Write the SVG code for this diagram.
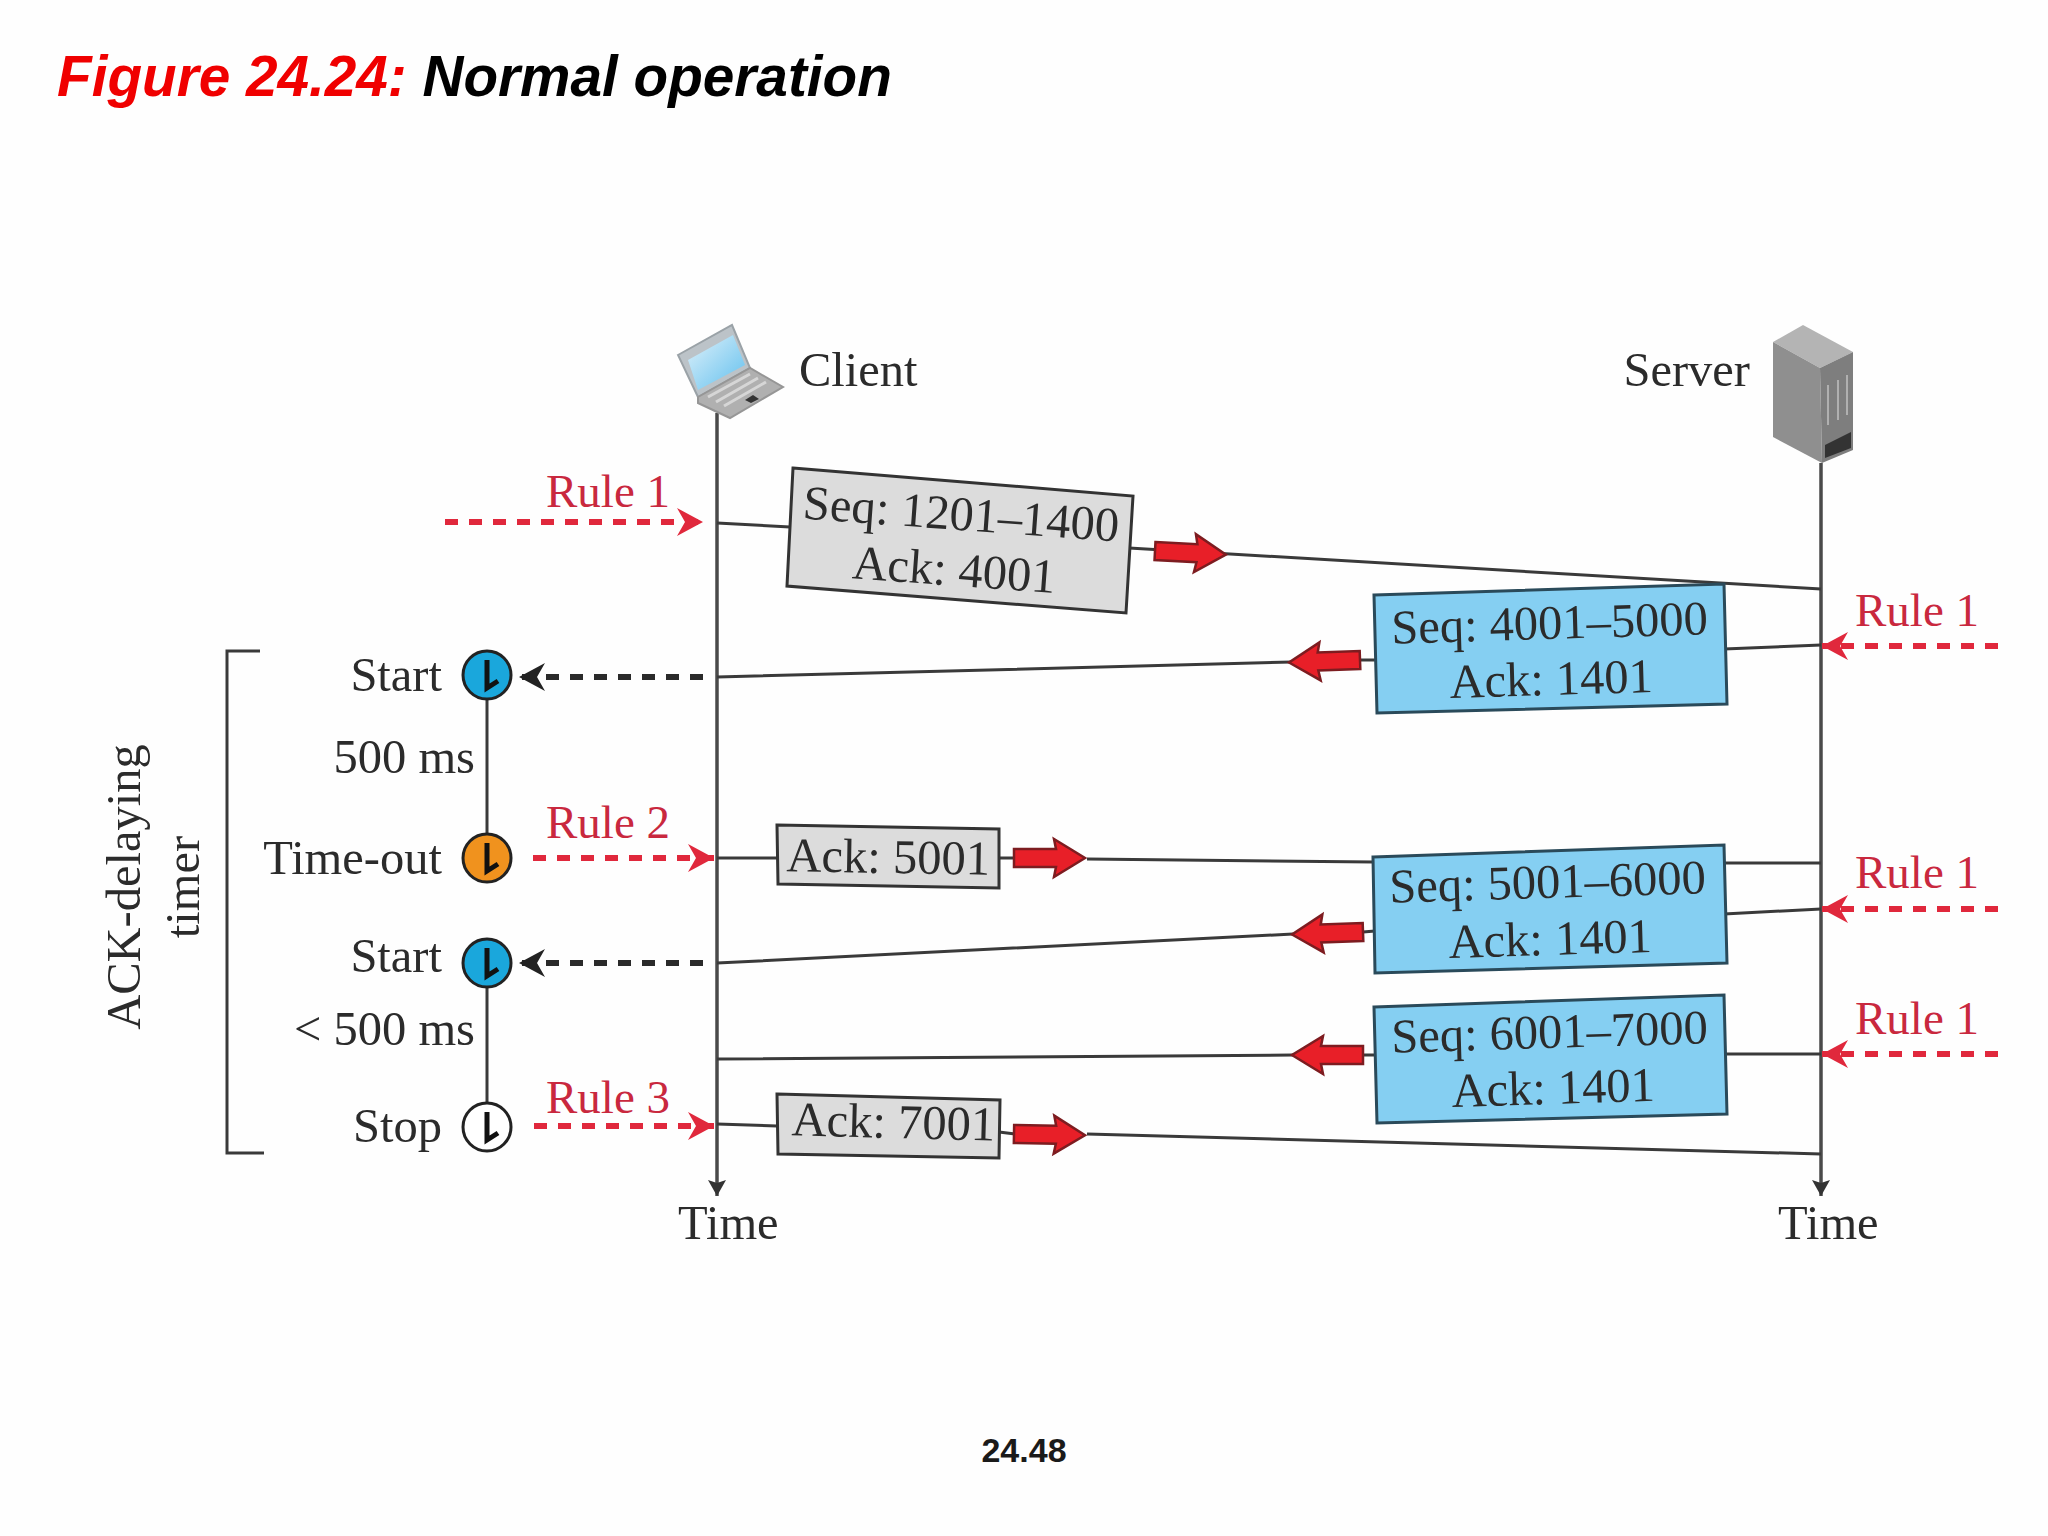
<svg xmlns="http://www.w3.org/2000/svg" xmlns:xlink="http://www.w3.org/1999/xlink" width="2048" height="1536" viewBox="0 0 2048 1536">
<style>
text{font-family:"Liberation Serif","Times New Roman",serif;font-size:48.5px;fill:#2b2b2b}
.r{text-anchor:end}
.m{text-anchor:middle}
.red{fill:#c9283e;font-size:47px}
.title{font-family:"Liberation Sans",Arial,sans-serif;font-weight:bold;font-style:italic;font-size:56.7px;fill:#000}
.foot{font-family:"Liberation Sans",Arial,sans-serif;font-weight:bold;font-size:34px;fill:#1a1a1a;text-anchor:middle}
.ln{stroke:#3a3a3a;stroke-width:3;fill:none}
.axis{stroke:#4a4a4a;stroke-width:3.5;fill:none}
.dr{stroke:#e0283c;stroke-width:6;stroke-dasharray:13 11;fill:none}
.dk{stroke:#2a2a2a;stroke-width:6;stroke-dasharray:13 11;fill:none}
.gray{fill:#dcdcdc;stroke:#333;stroke-width:3}
.blue{fill:#85cff2;stroke:#2a4a5a;stroke-width:3}
.clock{stroke:#222;stroke-width:3}
.hand{stroke:#111;stroke-width:5;fill:none}
</style>
<defs>
<linearGradient id="scr" x1="0" y1="0" x2="1" y2="1"><stop offset="0" stop-color="#dff1fa"/><stop offset="1" stop-color="#62c0ee"/></linearGradient>
<marker id="hr" markerUnits="userSpaceOnUse" markerWidth="28" markerHeight="30" refX="26" refY="15" orient="auto"><path d="M0 1 L26 15 L0 29 L8 15 Z" fill="#e0283c"/></marker>
<marker id="hk" markerUnits="userSpaceOnUse" markerWidth="28" markerHeight="30" refX="26" refY="15" orient="auto"><path d="M0 1 L26 15 L0 29 L8 15 Z" fill="#222"/></marker>
<marker id="ha" markerUnits="userSpaceOnUse" markerWidth="18" markerHeight="20" refX="16" refY="10" orient="auto"><path d="M0 1 L16 10 L0 19 L3 10 Z" fill="#333"/></marker>
<path id="fat" d="M0 -9 L42 -9 L40 -19 L71 0 L40 19 L42 9 L0 9 Z" fill="#e81f28" stroke="#7d1c20" stroke-width="2.5"/>
<g id="hands"><path class="hand" d="M0 -15 L0 13 L11 6"/></g>
</defs>
<rect width="2048" height="1536" fill="#fefefe"/>
<text class="title" x="57" y="96"><tspan fill="#f00000">Figure 24.24:</tspan> Normal operation</text>
<g id="connectors">
<path class="axis" d="M717 413V1196" marker-end="url(#ha)"/>
<path class="axis" d="M1821 463V1196" marker-end="url(#ha)"/>
<path class="ln" d="M717 523L790 527M1129 548L1821 589"/>
<path class="ln" d="M717 677L1292 662M1360 660L1375 660M1724 649L1821 645"/>
<path class="ln" d="M717 858L777 858M999 858L1015 858M1087 859L1374 862M1724 863L1821 863"/>
<path class="ln" d="M717 963L1293 934M1363 932L1375 931M1724 914L1821 909"/>
<path class="ln" d="M717 1059L1293 1055M1363 1055L1375 1055M1724 1054L1821 1054"/>
<path class="ln" d="M717 1124L777 1126M999 1132L1015 1134M1087 1134L1821 1154"/>
<path class="ln" d="M487 675V858M487 963V1127"/>
<path class="dr" d="M445 522H703" marker-end="url(#hr)"/>
<path class="dr" d="M533 858H714" marker-end="url(#hr)"/>
<path class="dr" d="M534 1126H714" marker-end="url(#hr)"/>
<path class="dr" d="M1998 646H1822" marker-end="url(#hr)"/>
<path class="dr" d="M1998 909H1822" marker-end="url(#hr)"/>
<path class="dr" d="M1998 1054H1822" marker-end="url(#hr)"/>
<path class="dk" d="M703 677H519" marker-end="url(#hk)"/>
<path class="dk" d="M703 963H519" marker-end="url(#hk)"/>
<use xlink:href="#fat" href="#fat" transform="translate(1155 551) rotate(3)"/>
<use xlink:href="#fat" href="#fat" transform="translate(1360 660) rotate(178)"/>
<use xlink:href="#fat" href="#fat" transform="translate(1014 858)"/>
<use xlink:href="#fat" href="#fat" transform="translate(1363 932) rotate(178)"/>
<use xlink:href="#fat" href="#fat" transform="translate(1363 1055) rotate(180)"/>
<use xlink:href="#fat" href="#fat" transform="translate(1014 1134) rotate(1)"/>
</g>
<g id="client">
<path d="M678 355L732 325L750 368L698 397Z" fill="#bcc3c8" stroke="#9aa2a7" stroke-width="2"/>
<path d="M688 360L733 335L745 365L698 390Z" fill="url(#scr)"/>
<path d="M698 397L750 368L783 387L730 418L698 403Z" fill="#b0b0b0" stroke="#969696" stroke-width="2"/>
<path d="M708 397L750 374M716 402L758 378M724 406L766 382" stroke="#d6d6d6" stroke-width="3" fill="none"/>
<path d="M745 400L753 395L759 399L751 403Z" fill="#333"/>
<text x="799" y="386">Client</text>
</g>
<g id="server">
<path d="M1773 342L1803 325L1853 352L1820 368Z" fill="#b4b4b4"/>
<path d="M1773 342L1820 368L1822 463L1773 437Z" fill="#8f8f8f"/>
<path d="M1820 368L1853 352L1853 450L1822 463Z" fill="#7e7e7e"/>
<path d="M1825 445L1851 432L1851 448L1825 458Z" fill="#333"/>
<path d="M1828 425V385M1838 420V380M1847 415V375" stroke="#b0b0b0" stroke-width="2" fill="none"/>
<text class="r" x="1750" y="386">Server</text>
</g>
<g id="seg1">
<path class="gray" d="M793 468L1133 496L1126 613L787 586Z"/>
<g transform="rotate(4.2 960 530)"><text class="m" x="960" y="530">Seq: 1201–1400</text><text class="m" x="957" y="586">Ack: 4001</text></g>
<text class="red" x="546" y="507">Rule 1</text>
</g>
<g id="seg2">
<path class="blue" d="M1374 595L1724 584L1727 704L1377 713Z"/>
<g transform="rotate(-1.7 1550 639)"><text class="m" x="1550" y="639">Seq: 4001–5000</text><text class="m" x="1550" y="695">Ack: 1401</text></g>
<text class="red" x="1855" y="626">Rule 1</text>
</g>
<g id="ack5001">
<path class="gray" d="M777 825L999 829L999 888L778 884Z"/>
<text class="m" x="888" y="873" transform="rotate(1 888 873)">Ack: 5001</text>
<text class="red" x="546" y="838">Rule 2</text>
</g>
<g id="seg3">
<path class="blue" d="M1373 857L1724 845L1727 963L1375 973Z"/>
<g transform="rotate(-1.7 1548 898)"><text class="m" x="1548" y="898">Seq: 5001–6000</text><text class="m" x="1549" y="955">Ack: 1401</text></g>
<text class="red" x="1855" y="888">Rule 1</text>
</g>
<g id="seg4">
<path class="blue" d="M1374 1007L1724 995L1727 1114L1377 1123Z"/>
<g transform="rotate(-1.7 1550 1048)"><text class="m" x="1550" y="1048">Seq: 6001–7000</text><text class="m" x="1552" y="1104">Ack: 1401</text></g>
<text class="red" x="1855" y="1034">Rule 1</text>
</g>
<g id="ack7001">
<path class="gray" d="M777 1094L1000 1100L999 1158L778 1154Z"/>
<text class="m" x="893" y="1138" transform="rotate(1.5 893 1138)">Ack: 7001</text>
<text class="red" x="546" y="1113">Rule 3</text>
</g>
<g id="timer-start1"><circle class="clock" cx="487" cy="675" r="24" fill="#1aa7dc"/><use xlink:href="#hands" href="#hands" transform="translate(487 675)"/><text class="r" x="442" y="691">Start</text><text class="r" x="475" y="773">500 ms</text></g>
<g id="timer-timeout"><circle class="clock" cx="487" cy="858" r="24" fill="#f0921e"/><use xlink:href="#hands" href="#hands" transform="translate(487 858)"/><text class="r" x="442" y="874">Time-out</text></g>
<g id="timer-start2"><circle class="clock" cx="487" cy="963" r="24" fill="#1aa7dc"/><use xlink:href="#hands" href="#hands" transform="translate(487 963)"/><text class="r" x="442" y="972">Start</text><text class="r" x="475" y="1045">&lt; 500 ms</text></g>
<g id="timer-stop"><circle class="clock" cx="487" cy="1127" r="24" fill="#fff"/><use xlink:href="#hands" href="#hands" transform="translate(487 1127)"/><text class="r" x="442" y="1142">Stop</text></g>
<g id="bracket">
<path class="ln" d="M260 651H227V1153H264"/>
<text class="m" transform="translate(140 887) rotate(-90)">ACK-delaying</text>
<text class="m" transform="translate(199 887) rotate(-90)">timer</text>
</g>
<g id="time-labels">
<text x="678" y="1239">Time</text>
<text x="1778" y="1239">Time</text>
</g>
<text class="foot" x="1024" y="1462">24.48</text>
</svg>
